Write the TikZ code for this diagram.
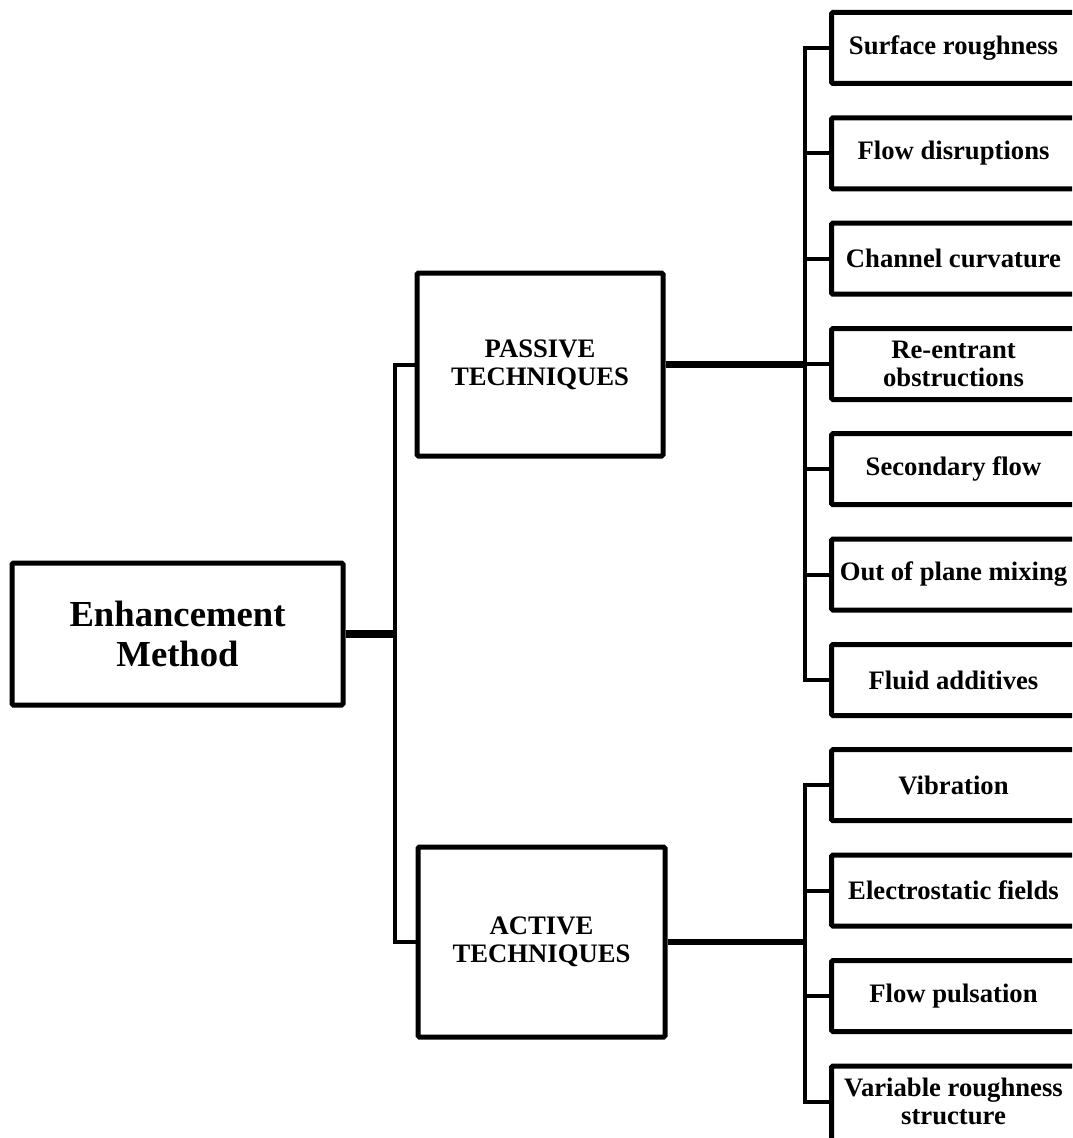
\documentclass[tikz,border=0pt]{standalone}
\usepackage{fontspec}
\setmainfont{Liberation Serif}
\begin{document}
\begin{tikzpicture}[x=0.75pt,y=-0.75pt,
  txt/.style={inner sep=0pt,align=center,font=\bfseries\fontsize{20}{21}\selectfont},
  box/.style={txt,draw=black,line width=3.75pt,rounded corners=1pt},
  leaf/.style={box,minimum width=183pt,minimum height=53.25pt,anchor=west},
  conn/.style={line width=3pt,line join=miter},
  thickconn/.style={line width=5.5pt},
  midconn/.style={line width=4.75pt}]
\useasboundingbox (0,0) rectangle (1072,1138);
\clip (0,0) rectangle (1072,1138);
% main nodes
\node[box,minimum width=248.25pt,minimum height=106.5pt,
  font=\bfseries\fontsize{27.5}{30}\selectfont] (enh) at (177.5,634) {Enhancement\\Method};
\node[box,minimum width=184.5pt,minimum height=137.25pt] (pas) at (540,364.5) {PASSIVE\\TECHNIQUES};
\node[box,minimum width=185.25pt,minimum height=142.5pt] (act) at (541.5,942) {ACTIVE\\TECHNIQUES};
% leaves
\node[leaf] (p1) at (829,48) {Surface roughness};
\node[leaf] (p2) at (829,153.3) {Flow disruptions};
\node[leaf] (p3) at (829,258.6) {Channel curvature};
\node[leaf] (p4) at (829,364) {Re-entrant\\obstructions};
\node[leaf] (p5) at (829,469.2) {Secondary flow};
\node[leaf] (p6) at (829,574.5) {Out of plane mixing};
\node[leaf] (p7) at (829,680) {Fluid additives};
\node[leaf] (a1) at (829,785.2) {Vibration};
\node[leaf] (a2) at (829,890.5) {Electrostatic fields};
\node[leaf] (a3) at (829,996) {Flow pulsation};
\node[leaf,minimum height=60pt] (a4) at (829,1106) {};
\node[txt] (a4t) at (a4.center |- 0,1101.5) {Variable roughness\\structure};
% trunk coordinates
\coordinate (lx) at (395,0);
\coordinate (rx) at (805,0);
% left tree
\draw[thickconn] (enh.east) -- (enh.east -| lx);
\draw[conn] (pas.west) -- (pas.west -| lx) -- (act.west -| lx) -- (act.west);
% passive tree
\draw[thickconn] (pas.east) -- (pas.east -| rx);
\draw[conn] (p1.west) -- (p1.west -| rx) -- (p7.west -| rx) -- (p7.west);
\foreach \n in {p2,p3,p4,p5,p6} \draw[conn] (\n.west -| rx) -- (\n.west);
% active tree
\draw[midconn] (act.east) -- (act.east -| rx);
\draw[conn] (a1.west) -- (a1.west -| rx) -- (a4.west |- a4t -| rx) -- (a4.west |- a4t);
\foreach \n in {a2,a3} \draw[conn] (\n.west -| rx) -- (\n.west);
\end{tikzpicture}
\end{document}
